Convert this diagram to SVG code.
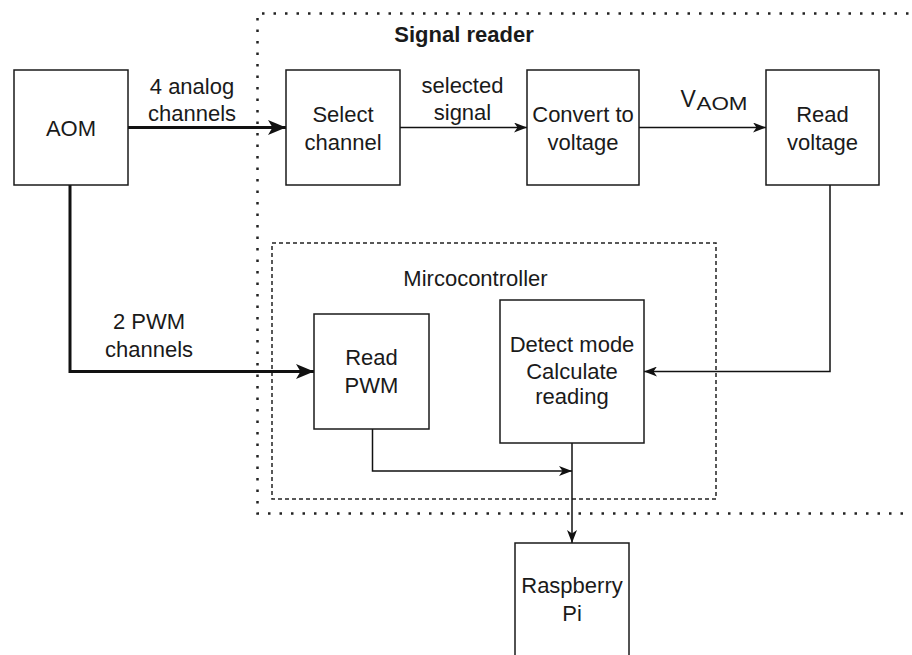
<svg xmlns="http://www.w3.org/2000/svg" width="912" height="655" viewBox="0 0 912 655">
  <defs>
    <style>
      .box { fill: #ffffff; stroke: #1a1a1a; stroke-width: 1.5; }
      .lbl { font-family: "Liberation Sans", Arial, sans-serif; font-size: 22px; fill: #1a1a1a; text-anchor: middle; }
      .bold { font-weight: bold; }
      .wire { fill: none; stroke: #111111; stroke-width: 1.5; }
      .bus { fill: none; stroke: #111111; stroke-width: 3; }
      .dotted { fill: none; stroke: #222222; stroke-width: 2.5; stroke-dasharray: 2.5 9; }
      .dashed { fill: none; stroke: #222222; stroke-width: 1.5; stroke-dasharray: 4 3; }
    </style>
    <marker id="arrow" markerUnits="userSpaceOnUse" markerWidth="13" markerHeight="10" refX="13" refY="5" orient="auto">
      <path d="M0,0 L13,5 L0,10 L3.5,5 Z" fill="#111111"/>
    </marker>
    <marker id="arrow-bus" markerUnits="userSpaceOnUse" markerWidth="18" markerHeight="15" refX="18" refY="7.5" orient="auto">
      <path d="M0,0 L18,7.5 L0,15 L4.5,7.5 Z" fill="#111111"/>
    </marker>
  </defs>

  <rect width="912" height="655" fill="#ffffff"/>

  <!-- containers -->
  <g id="signal-reader">
    <path class="dotted" d="M920,13.5 H257.5 V513.5 H920"/>
    <text class="lbl bold" x="464" y="42">Signal reader</text>
  </g>
  <g id="microcontroller">
    <rect class="dashed" x="272" y="243" width="444" height="256"/>
    <text class="lbl" x="475.5" y="286">Mircocontroller</text>
  </g>

  <!-- connectors -->
  <g id="connectors">
    <path class="bus" d="M128,127.5 H286" marker-end="url(#arrow-bus)"/>
    <text class="lbl" x="192" y="93.5">4 analog</text>
    <text class="lbl" x="192" y="120.5">channels</text>

    <path class="wire" d="M400,127.5 H527" marker-end="url(#arrow)"/>
    <text class="lbl" x="462.5" y="92.5">selected</text>
    <text class="lbl" x="462.5" y="120">signal</text>

    <path class="wire" d="M639,127.5 H766" marker-end="url(#arrow)"/>
    <text class="lbl" x="680.5" y="107" style="text-anchor:start;font-size:23px">V</text>
    <text class="lbl" x="696.5" y="109.5" style="text-anchor:start;font-size:19px" textLength="51" lengthAdjust="spacingAndGlyphs">AOM</text>

    <path class="wire" d="M830,185 V371.5 H644" marker-end="url(#arrow)"/>

    <path class="bus" d="M70,185 V371.5 H314" marker-end="url(#arrow-bus)"/>
    <text class="lbl" x="149" y="328.5">2 PWM</text>
    <text class="lbl" x="149" y="356.5">channels</text>

    <path class="wire" d="M372.5,429 V471 H572" marker-end="url(#arrow)"/>
    <path class="wire" d="M572,443 V543" marker-end="url(#arrow)"/>
  </g>

  <!-- nodes -->
  <g id="aom">
    <rect class="box" x="14" y="70" width="114" height="115"/>
    <text class="lbl" x="71" y="136">AOM</text>
  </g>
  <g id="select-channel">
    <rect class="box" x="286" y="70" width="114" height="115"/>
    <text class="lbl" x="343" y="121.5">Select</text>
    <text class="lbl" x="343" y="150">channel</text>
  </g>
  <g id="convert-to-voltage">
    <rect class="box" x="527" y="70" width="112" height="115"/>
    <text class="lbl" x="583" y="121.5">Convert to</text>
    <text class="lbl" x="583" y="150">voltage</text>
  </g>
  <g id="read-voltage">
    <rect class="box" x="766" y="70" width="113" height="115"/>
    <text class="lbl" x="822.5" y="121.5">Read</text>
    <text class="lbl" x="822.5" y="150">voltage</text>
  </g>
  <g id="read-pwm">
    <rect class="box" x="314" y="314" width="115" height="115"/>
    <text class="lbl" x="371.5" y="365">Read</text>
    <text class="lbl" x="371.5" y="393">PWM</text>
  </g>
  <g id="detect-mode">
    <rect class="box" x="500" y="300" width="144" height="143"/>
    <text class="lbl" x="572" y="352">Detect mode</text>
    <text class="lbl" x="572" y="378.5">Calculate</text>
    <text class="lbl" x="572" y="404">reading</text>
  </g>
  <g id="raspberry-pi">
    <rect class="box" x="515" y="543" width="114" height="120"/>
    <text class="lbl" x="572" y="593">Raspberry</text>
    <text class="lbl" x="572" y="621">Pi</text>
  </g>
</svg>
